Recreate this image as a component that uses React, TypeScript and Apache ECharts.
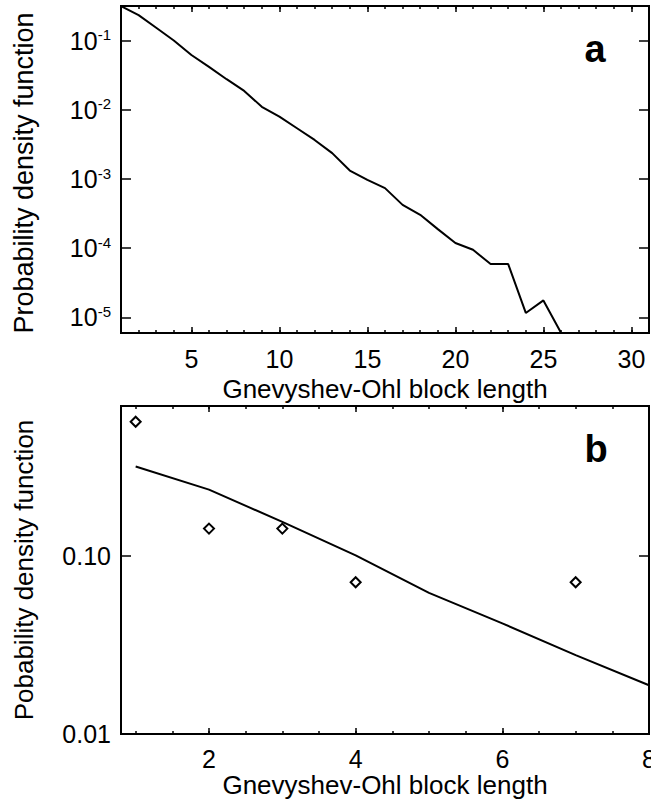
import React, { useEffect, useRef } from "react";
import * as echarts from "echarts";

// ---------- data ----------
const blockLengthA = [1, 2, 3, 4, 5, 6, 7, 8, 9, 10, 11, 12, 13, 14, 15, 16, 17, 18, 19, 20, 21, 22, 23, 24, 25, 26];
const pdfA = [
  0.317, 0.235, 0.154, 0.101, 0.0622, 0.0419, 0.0278, 0.0188, 0.0111, 0.008,
  0.00543, 0.00368, 0.00237, 0.00133, 0.000975, 0.00074, 0.000424, 0.000304,
  0.000189, 0.000119, 0.000095, 0.000059, 0.000059, 0.0000116, 0.0000176, 0.000006,
];
const blockLengthB = [1, 2, 3, 4, 5, 6, 7, 8];
const modelB = [0.32, 0.237, 0.156, 0.101, 0.0622, 0.0419, 0.0278, 0.0188];
const observedLengthB = [1, 2, 3, 4, 7];
const observedB = [0.571, 0.143, 0.143, 0.0714, 0.0714];

// axis ranges
const xRangeA = [1, 31];
const yRangeA = [5.95e-6, 0.318];
const xRangeB = [0.8, 8];
const yRangeB = [0.01, 0.7];

// tick labels
const xLabelsA = [5, 10, 15, 20, 25, 30];
const xLabelsB = [2, 4, 6, 8];

const FONT = "'Liberation Sans', Arial, Helvetica, sans-serif";

function isDecade(v: number) {
  const l = Math.log10(v);
  return Math.abs(l - Math.round(l)) < 1e-6;
}

const tickLine = { color: "#000", width: 1.5 };

// an axis that only draws inward tick marks (no line, no labels)
function tickAxis(gridIndex: number, type: string, position: string, range: number[], splitNumber: number, len: number) {
  return {
    gridIndex,
    type,
    position,
    min: range[0],
    max: range[1],
    splitNumber,
    axisLine: { show: false },
    axisLabel: { show: false },
    splitLine: { show: false },
    axisTick: { show: true, inside: true, length: len, lineStyle: tickLine },
  };
}

export default function App() {
  const ref = useRef<HTMLDivElement>(null);
  useEffect(() => {
    if (!ref.current) return;
    const chart = echarts.init(ref.current, undefined, { renderer: "svg" });
    const labelStyle = { color: "#000", fontSize: 25, fontFamily: FONT, lineHeight: 25 };
    const nameStyle = { color: "#000", fontSize: 26, fontFamily: FONT, lineHeight: 26 };
    const option: any = {
      animation: false,
      backgroundColor: "#fff",
      grid: [
        { left: 121, top: 6, width: 528, height: 327, show: true, borderColor: "#000", borderWidth: 2, outerBoundsMode: "none" },
        { left: 121, top: 406, width: 528, height: 328, show: true, borderColor: "#000", borderWidth: 2, outerBoundsMode: "none" },
      ],
      xAxis: [
        {
          gridIndex: 0,
          type: "value",
          position: "bottom",
          min: xRangeA[0],
          max: xRangeA[1],
          splitNumber: 6,
          axisLine: { show: false },
          splitLine: { show: false },
          axisTick: { show: true, inside: true, length: 6, lineStyle: tickLine },
          name: "Gnevyshev-Ohl block length",
          nameLocation: "middle",
          nameGap: 43,
          nameTextStyle: nameStyle,
          axisLabel: {
            ...labelStyle,
            margin: 13,
            showMinLabel: false,
            showMaxLabel: false,
            formatter: (v: number) => (xLabelsA.indexOf(v) >= 0 ? String(v) : ""),
          },
        },
        {
          gridIndex: 1,
          type: "value",
          position: "bottom",
          min: xRangeB[0],
          max: xRangeB[1],
          splitNumber: 4,
          axisLine: { show: false },
          splitLine: { show: false },
          axisTick: { show: true, inside: true, length: 6, lineStyle: tickLine },
          name: "Gnevyshev-Ohl block length",
          nameLocation: "middle",
          nameGap: 37,
          nameTextStyle: nameStyle,
          axisLabel: {
            ...labelStyle,
            margin: 12,
            showMinLabel: false,
            showMaxLabel: true,
            formatter: (v: number) => (xLabelsB.indexOf(v) >= 0 ? String(v) : ""),
          },
        },
        tickAxis(0, "value", "bottom", xRangeA, 30, 3),
        tickAxis(0, "value", "top", xRangeA, 6, 6),
        tickAxis(0, "value", "top", xRangeA, 30, 3),
        tickAxis(1, "value", "bottom", xRangeB, 14, 3),
        tickAxis(1, "value", "top", xRangeB, 4, 6),
        tickAxis(1, "value", "top", xRangeB, 14, 3),
      ],
      yAxis: [
        {
          gridIndex: 0,
          type: "log",
          logBase: 10,
          position: "left",
          min: yRangeA[0],
          max: yRangeA[1],
          axisLine: { show: false },
          splitLine: { show: false },
          axisTick: { show: true, inside: true, length: 10, lineStyle: tickLine },
          name: "Probability density function",
          nameLocation: "middle",
          nameRotate: 90,
          nameGap: 84,
          nameTextStyle: { color: "#000", fontSize: 27, fontFamily: FONT, lineHeight: 27, padding: [0, 7, 0, 0] },
          axisLabel: {
            margin: 10,
            showMinLabel: false,
            showMaxLabel: false,
            formatter: (v: number) => {
              if (!isDecade(v)) return "";
              const e = Math.round(Math.log10(v));
              return `{b|10}{s|${e}}`;
            },
            rich: {
              b: { color: "#000", fontSize: 25, fontFamily: FONT, lineHeight: 27 },
              s: { color: "#000", fontSize: 15, fontFamily: FONT, lineHeight: 15, verticalAlign: "top" },
            },
          },
        },
        {
          gridIndex: 1,
          type: "log",
          logBase: 10,
          position: "left",
          min: yRangeB[0],
          max: yRangeB[1],
          axisLine: { show: false },
          splitLine: { show: false },
          axisTick: { show: true, inside: true, length: 10, lineStyle: tickLine },
          name: "Pobability density function",
          nameLocation: "middle",
          nameRotate: 90,
          nameGap: 84,
          nameTextStyle: { color: "#000", fontSize: 26, fontFamily: FONT, lineHeight: 26 },
          axisLabel: {
            ...labelStyle,
            margin: 10,
            showMaxLabel: false,
            formatter: (v: number) => (isDecade(v) ? v.toFixed(2) : ""),
          },
        },
        tickAxis(0, "log", "right", yRangeA, 5, 10),
        tickAxis(1, "log", "right", yRangeB, 5, 10),
      ],
      series: [
        {
          type: "line",
          xAxisIndex: 0,
          yAxisIndex: 0,
          data: blockLengthA.map((x, i) => [x, pdfA[i]]),
          showSymbol: false,
          symbol: "none",
          lineStyle: { color: "#000", width: 2 },
        },
        {
          type: "line",
          xAxisIndex: 1,
          yAxisIndex: 1,
          data: blockLengthB.map((x, i) => [x, modelB[i]]),
          showSymbol: false,
          symbol: "none",
          lineStyle: { color: "#000", width: 2 },
        },
        {
          type: "scatter",
          xAxisIndex: 1,
          yAxisIndex: 1,
          data: observedLengthB.map((x, i) => [x, observedB[i]]),
          symbol: "diamond",
          symbolSize: 10,
          itemStyle: { color: "#fff", borderColor: "#000", borderWidth: 2, opacity: 1 },
        },
      ],
      graphic: [
        {
          type: "text",
          x: 595,
          y: 49,
          style: { text: "a", font: `bold 38px ${FONT}`, fill: "#000", textAlign: "center", textVerticalAlign: "middle" },
        },
        {
          type: "text",
          x: 596,
          y: 449,
          style: { text: "b", font: `bold 38px ${FONT}`, fill: "#000", textAlign: "center", textVerticalAlign: "middle" },
        },
      ],
    };
    chart.setOption(option);
    return () => chart.dispose();
  }, []);
  return (
    <div
      ref={ref}
      style={{ position: "fixed", left: 0, top: 0, width: 651, height: 802, background: "#fff" }}
    />
  );
}
